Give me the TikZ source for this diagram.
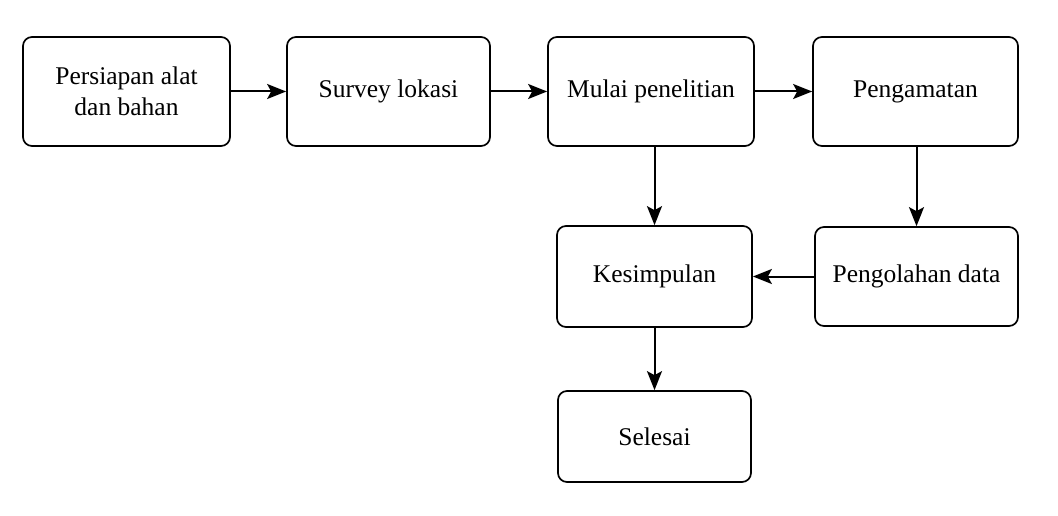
\documentclass[tikz,border=0pt]{standalone}
\usepackage{fontspec}
\setmainfont{Liberation Serif}
\usetikzlibrary{arrows.meta}
\begin{document}
\begin{tikzpicture}[x=1pt,y=-1pt,
  box/.style={draw,line width=1.7pt,rounded corners=9pt,align=center,inner sep=0pt,
    font=\fontsize{25.5}{31}\selectfont},
  conn/.style={draw,line width=2pt,-{Stealth[length=19pt,width=15pt,inset=4pt]}}]
\useasboundingbox (0,0) rectangle (1058,516);
\fill[white] (0,0) rectangle (1058,516);
\node[box,minimum width=207pt,minimum height=109pt] (p) at (126.5,91.5) {Persiapan alat\\dan bahan};
\node[box,minimum width=203pt,minimum height=109pt] (s) at (388.5,91.5) {Survey lokasi};
\node[box,minimum width=206pt,minimum height=109pt] (m) at (651,91.5) {Mulai penelitian};
\node[box,minimum width=205pt,minimum height=109pt] (g) at (915.5,91.5) {Pengamatan};
\node[box,minimum width=195pt,minimum height=101pt] (k) at (654.5,276.5) {Kesimpulan};
\node[box,minimum width=203pt,minimum height=99pt] (o) at (916.5,276.5) {Pengolahan data};
\node[box,minimum width=193pt,minimum height=91pt] (e) at (654.5,436.5) {Selesai};
\path[conn] (p) -- (s);
\path[conn] (s) -- (m);
\path[conn] (m) -- (g);
\path[conn] (m.south -| k.north) -- (k.north);
\path[conn] (g.south -| o.north) -- (o.north);
\path[conn] (o) -- (k);
\path[conn] (k) -- (e);
\end{tikzpicture}
\end{document}
